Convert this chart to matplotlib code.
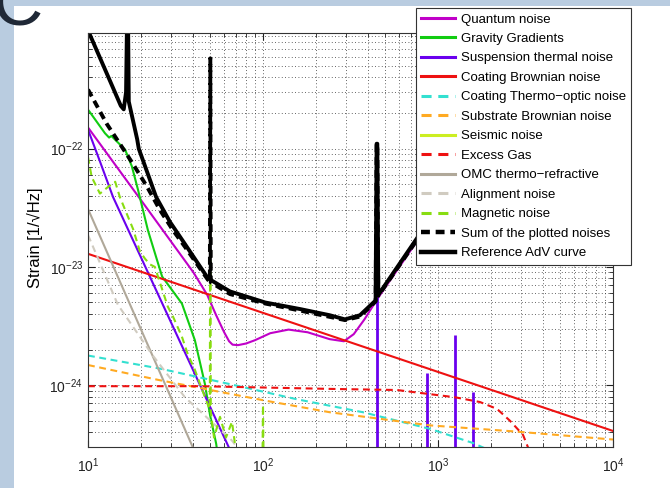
import matplotlib
matplotlib.use('Agg')
import matplotlib.pyplot as plt
from matplotlib.patches import Rectangle
from matplotlib.ticker import NullFormatter, FixedLocator

plt.rcParams['font.family'] = ['Liberation Sans', 'DejaVu Sans']
plt.rcParams['mathtext.fontset'] = 'custom'
plt.rcParams['mathtext.rm'] = 'Liberation Sans'
plt.rcParams['mathtext.it'] = 'Liberation Sans:italic'
plt.rcParams['mathtext.bf'] = 'Liberation Sans:bold'

# ---- data (frequency in Hz, strain in 1/sqrt(Hz)) ----
quantum_f = [10, 20, 40, 48, 54, 60, 64, 67, 72, 80, 90, 110, 140, 180, 240, 290, 330, 380, 448, 769, 10000]
quantum_h = [1.51e-22, 3.7e-23, 9.0e-24, 5.8e-24, 3.9e-24, 2.8e-24, 2.35e-24, 2.2e-24, 2.18e-24,
             2.25e-24, 2.4e-24, 2.75e-24, 2.95e-24, 2.8e-24, 2.45e-24, 2.35e-24, 2.7e-24, 3.6e-24,
             5.3e-24, 1.7e-23, 2.2e-22]

gg_f = [10, 12.5, 13.2, 13.6, 16.3, 17.8, 19.3, 22.0, 26.5, 34.4, 40.8, 46.6, 49.8, 54, 60]
gg_h = [2.14e-22, 1.35e-22, 1.24e-22, 1.28e-22, 9.8e-23, 7.1e-23, 4.5e-23, 2.04e-23, 8.3e-24,
        4.9e-24, 2.4e-24, 1.02e-24, 5.6e-25, 3.2e-25, 1e-25]

susp_f = [10, 11.7, 13.9, 63, 74, 100]
susp_h = [1.45e-22, 7.8e-23, 3.9e-23, 3.1e-25, 1.86e-25, 7e-26]
violin_f = [448, 865, 1250, 1585]
violin_h = [5.6e-24, 1.26e-24, 2.63e-24, 8.7e-25]

coat_br_f = [10, 10000]
coat_br_h = [1.29e-23, 4.1e-25]

coat_to_f = [10, 25.8, 64.8, 156, 373, 900, 1585, 2260]
coat_to_h = [1.78e-24, 1.38e-24, 1.02e-24, 7.6e-25, 5.9e-25, 4.27e-25, 3.24e-25, 2.57e-25]

subst_f = [10, 25.8, 103, 241, 900, 2685, 10000]
subst_h = [1.48e-24, 1.10e-24, 7.4e-25, 5.9e-25, 4.57e-25, 4.07e-25, 3.47e-25]

seismic_f = [10, 15, 20]
seismic_h = [2e-25, 2e-26, 3e-27]

gas_f = [10, 43.7, 241, 583, 1250, 1738, 2174, 2578, 3060, 3356]
gas_h = [9.8e-25, 9.8e-25, 9.3e-25, 9.1e-25, 7.9e-25, 7.2e-25, 6.3e-25, 5.0e-25, 3.8e-25, 2.7e-25]

omc_f = [10, 39.3, 50]
omc_h = [3.09e-23, 3.09e-25, 1.4e-25]

align_f = [10, 14.8, 23.2, 35.8, 66.5, 78.6]
align_h = [1.86e-23, 4.8e-24, 1.82e-24, 7.9e-25, 3.4e-25, 2.45e-25]

mag_f = [10, 10.5, 11.7, 13.6, 14.3, 15.2, 18.1, 19.8, 21.2, 22.6, 24.1, 26.5, 28.6, 30.6, 34.4,
         37.2, 40.8, 43.7, 46.6, 49.1, 49.7, 50.0, 50.3, 52.5, 56.8, 61.4, 66.5, 70.2, 84.4,
         99, 100, 101, 163, 1000]
mag_h = [8.5e-23, 5.75e-23, 4.17e-23, 5.0e-23, 5.25e-23, 3.9e-23, 2.09e-23, 1.35e-23, 1.17e-23,
         1.05e-23, 1.0e-23, 6.5e-24, 4.6e-24, 3.8e-24, 2.57e-24, 1.82e-24, 1.35e-24, 1.02e-24,
         7.9e-25, 6.5e-25, 6.3e-25, 5.8e-22, 6.0e-25, 3.6e-25, 5.4e-25, 3.6e-25, 4.9e-25, 2.7e-25,
         1.66e-25, 1.5e-25, 6.8e-25, 1.5e-25, 1.1e-25, 3e-26]

sum_f = [10, 12.8, 15.2, 18.1, 21.7, 25.8, 30.6, 35.8, 48.5, 49.7, 50.0, 50.3, 64.8, 103, 163,
         294, 358, 440, 446, 450, 456, 769, 2000, 10000]
sum_h = [3.16e-22, 1.62e-22, 1.10e-22, 7.4e-23, 4.79e-23, 3.02e-23, 2.04e-23, 1.48e-23, 7.76e-24,
         7.6e-24, 5.8e-22, 7.4e-24, 5.89e-24, 4.9e-24, 4.27e-24, 3.55e-24, 3.8e-24, 5.1e-24,
         1.1e-22, 1.1e-22, 5.7e-24, 1.74e-23, 4.9e-23, 2.45e-22]

ref_f = [10, 13.4, 15.4, 16.0, 16.5, 16.85, 17.1, 19.1, 19.5, 24.5, 29.4, 35.4, 48.5, 64.8, 103,
         163, 241, 294, 358, 440, 446, 450, 456, 769, 2000, 10000]
ref_h = [1.0e-21, 3.7e-22, 2.3e-22, 2.15e-22, 3.0e-22, 3e-21, 2.5e-22, 1.2e-22, 1.0e-22, 3.9e-23,
         2.4e-23, 1.6e-23, 8.0e-24, 6.2e-24, 5.0e-24, 4.4e-24, 3.9e-24, 3.6e-24, 3.9e-24, 5.2e-24,
         1.1e-22, 1.1e-22, 5.8e-24, 1.8e-23, 5e-23, 2.5e-22]

x_ticks = [10, 100, 1000, 10000]
y_ticks = [1e-24, 1e-23, 1e-22]

susp_color = '#6a00ee'

fig = plt.figure(figsize=(6.7, 4.88), dpi=100, facecolor='#b9cce0')
fig.patches.append(Rectangle((14 / 670, 0), 1, 482 / 488, transform=fig.transFigure,
                             facecolor='white', edgecolor='none', zorder=-10))
fig.text(-8 / 670, 463 / 488, 'C', fontsize=50, color='#1f2836', va='baseline', ha='left')

ax = fig.add_axes([88 / 670, 41 / 488, 525 / 670, 414 / 488])
ax.set_zorder(1)
ax.set_xscale('log')
ax.set_yscale('log')

dash = (3.3, 2.2)
ax.plot(quantum_f, quantum_h, color='#c000c8', lw=1.5, label='Quantum noise')
ax.plot(gg_f, gg_h, color='#11cc11', lw=1.5, label='Gravity Gradients')
ax.plot(susp_f, susp_h, color=susp_color, lw=1.5, label='Suspension thermal noise')
ax.vlines(violin_f, 1e-27, violin_h, color=susp_color, lw=2)
ax.plot(coat_br_f, coat_br_h, color='#ee1111', lw=1.5, label='Coating Brownian noise')
ax.plot(coat_to_f, coat_to_h, color='#33e0d0', lw=1.5, dashes=dash, label='Coating Thermo\u2212optic noise')
ax.plot(subst_f, subst_h, color='#ffaa22', lw=1.5, dashes=dash, label='Substrate Brownian noise')
ax.plot(seismic_f, seismic_h, color='#ccee22', lw=1.5, label='Seismic noise')
ax.plot(gas_f, gas_h, color='#ee1111', lw=1.5, dashes=dash, label='Excess Gas')
ax.plot(omc_f, omc_h, color='#b0a899', lw=1.5, label='OMC thermo\u2212refractive')
ax.plot(align_f, align_h, color='#d0cbc0', lw=1.5, dashes=dash, label='Alignment noise')
ax.plot(mag_f, mag_h, color='#88dd11', lw=1.5, dashes=dash, label='Magnetic noise')
ax.plot(sum_f, sum_h, color='black', lw=2.8, dashes=(2.0, 1.3), label='Sum of the plotted noises')
ax.plot(ref_f, ref_h, color='black', lw=2.8, label='Reference AdV curve')

ax.set_xlim(10, 1e4)
ax.set_ylim(3e-25, 9.5e-22)
ax.xaxis.set_major_locator(FixedLocator(x_ticks))
ax.yaxis.set_major_locator(FixedLocator(y_ticks))

ax.set_axisbelow(True)
ax.grid(True, which='both', linestyle=(0, (1, 3)), color='#333333', linewidth=0.6)
ax.tick_params(which='both', direction='in', top=True, right=True, labelsize=10, colors='#222222')
ax.tick_params(which='major', length=5)
ax.tick_params(which='minor', length=3)
ax.tick_params(axis='x', pad=7)
ax.xaxis.set_minor_formatter(NullFormatter())
ax.yaxis.set_minor_formatter(NullFormatter())
for s in ax.spines.values():
    s.set_color('#333333')
    s.set_linewidth(0.8)

ax.set_ylabel('Strain [1/\u221aHz]', fontsize=12)
ax.yaxis.set_label_coords(-0.086, 0.505)

leg = ax.legend(loc='upper right', bbox_to_anchor=(631 / 670, 480 / 488),
                bbox_transform=fig.transFigure, fontsize=9.5, fancybox=False,
                framealpha=1, edgecolor='#333333', borderaxespad=0,
                handlelength=2.6, handletextpad=0.4, labelspacing=0.55, borderpad=0.4)
leg.get_frame().set_linewidth(0.8)
for h in leg.legend_handles:
    h.set_linewidth(3.2 if h.get_color() == 'black' else 2.2)

fig.savefig('out.png', dpi=100, facecolor=fig.get_facecolor())
